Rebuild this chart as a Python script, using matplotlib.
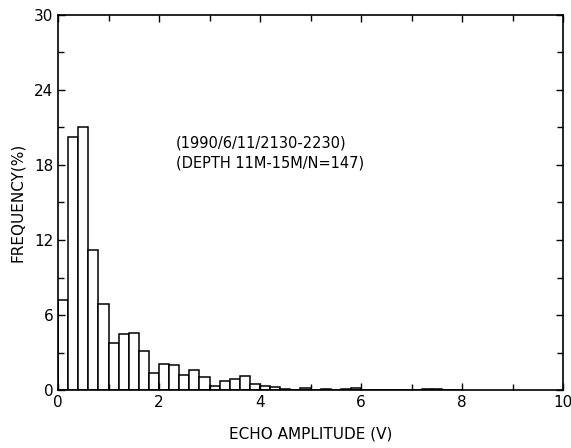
import numpy as np
import matplotlib
matplotlib.use("Agg")
import matplotlib.pyplot as plt

# histogram of echo amplitude, bin width 0.2 V
bin_left = np.round(np.arange(0, 8.0, 0.2), 1)
freq = [7.2, 20.2, 21.0, 11.2, 6.9, 3.8, 4.5, 4.6, 3.1, 1.4,
        2.1, 2.0, 1.2, 1.6, 1.05, 0.3, 0.75, 0.9, 1.15, 0.5,
        0.3, 0.25, 0.1, 0.0, 0.2, 0.0, 0.1, 0.0, 0.05, 0.2,
        0.0, 0.0, 0.0, 0.0, 0.0, 0.0, 0.1, 0.1, 0.0, 0.0]
xticks = [0, 2, 4, 6, 8, 10]
yticks = [0, 6, 12, 18, 24, 30]
note = ["(1990/6/11/2130-2230)", "(DEPTH 11M-15M/N=147)"]

plt.rcParams["font.family"] = ["Liberation Sans Narrow", "DejaVu Sans"]
fig = plt.figure(figsize=(5.71, 4.48), dpi=100)
ax = fig.add_axes([58/571, 1-390/448, (563-58)/571, (390-15)/448])

ax.bar(bin_left, freq, width=0.2, align="edge", facecolor="white",
       edgecolor="black", linewidth=1.1)

ax.set_xlim(0, 10); ax.set_ylim(0, 30)
ax.set_xticks(xticks); ax.set_yticks(yticks)
ax.set_xticks(np.arange(0, 11, 1), minor=True)
ax.set_yticks(np.arange(0, 31, 3), minor=True)
ax.tick_params(which="both", direction="in", top=True, right=True, labelsize=11, width=1)
ax.tick_params(which="major", length=5)
ax.tick_params(which="minor", length=4)
for s in ax.spines.values():
    s.set_linewidth(1.2)

ax.text(2.33, 19.8, note[0], fontsize=10.5, va="center")
ax.text(2.33, 18.2, note[1], fontsize=10.5, va="center")

ax.set_xlabel("ECHO AMPLITUDE (V)", fontsize=11, labelpad=12)
ax.set_ylabel("FREQUENCY(%)", fontsize=11, labelpad=6)

fig.savefig("out.png", dpi=100)
